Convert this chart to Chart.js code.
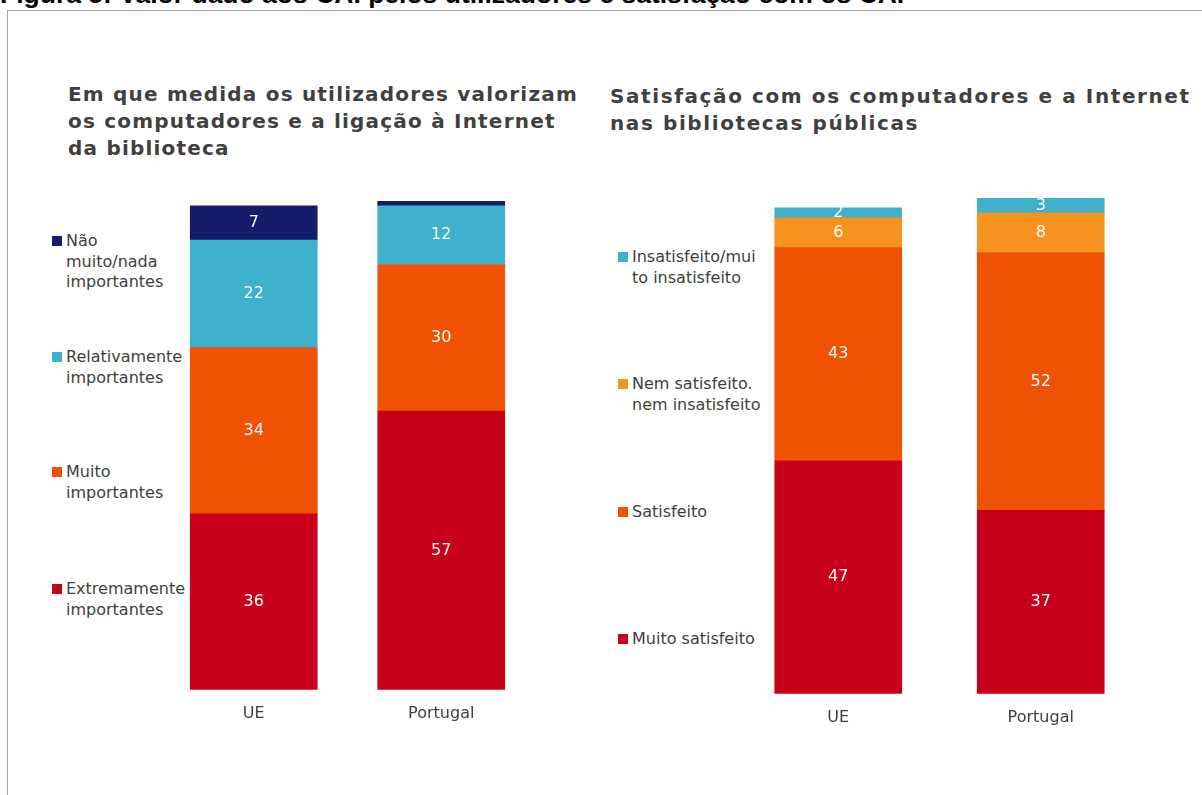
<!DOCTYPE html>
<html>
<head>
<meta charset="utf-8">
<script src="https://cdn.jsdelivr.net/npm/chart.js@4"></script>
<style>
  body { margin: 0; background: #fff; }
  #wrap { position: relative; width: 1202px; height: 795px; overflow: hidden; font-family: "DejaVu Sans", Verdana, sans-serif; }
  #caption { position: absolute; left: 0; top: -19px; font: bold 26.5px "Liberation Sans", Arial, sans-serif; color: #000; line-height: 26px; white-space: nowrap; }
  #frame { position: absolute; left: 7px; top: 10px; width: 1300px; height: 900px; border-left: 1px solid #a6a6a6; border-top: 1px solid #a6a6a6; }
  .title { position: absolute; font-weight: bold; font-size: 20px; line-height: 27px; color: #404040; letter-spacing: 1.2px; white-space: nowrap; }
  .leg { position: absolute; font-size: 16px; line-height: 20.5px; color: #404040; white-space: nowrap; }
  .leg i { position: absolute; width: 10px; height: 10px; left: -14px; top: 5px; }
  canvas { position: absolute; }
</style>
</head>
<body>
<div id="wrap">
  <div id="caption">Figura 5: Valor dado aos CAI pelos utilizadores e satisfação com os CAI</div>
  <div id="frame"></div>
  <div class="title" style="left:68px; top:81px;">Em que medida os utilizadores valorizam<br>os computadores e a ligação à Internet<br>da biblioteca</div>
  <div class="title" style="left:610px; top:83px; letter-spacing:1.6px;">Satisfação com os computadores e a Internet<br>nas bibliotecas públicas</div>
  <div id="legLeft"></div>
  <div id="legRight"></div>
  <div style="position:absolute;left:160px;top:190px;width:375px;height:539px;"><canvas id="chartLeft"></canvas></div>
  <div style="position:absolute;left:737px;top:190px;width:405px;height:543px;"><canvas id="chartRight"></canvas></div>
</div>
<script>
var categories = ["UE", "Portugal"];

// valorizacao (de baixo para cima)
var extremamente = [36, 57];
var muitoImp = [34, 30];
var relativamente = [22, 12];
var naoMuito = [7, 1];
var leftNames = [["Extremamente", "importantes"], ["Muito", "importantes"], ["Relativamente", "importantes"], ["Não", "muito/nada", "importantes"]];
var leftColors = ["#c8001a", "#f05205", "#40b1cd", "#141c6b"];

// satisfacao (de baixo para cima)
var muitoSatisfeito = [47, 37];
var satisfeito = [43, 52];
var nemNem = [6, 8];
var insatisfeito = [2, 3];
var rightNames = [["Muito satisfeito"], ["Satisfeito"], ["Nem satisfeito.", "nem insatisfeito"], ["Insatisfeito/mui", "to insatisfeito"]];
var rightColors = ["#c8001a", "#f05205", "#f6921e", "#40b1cd"];

var valueLabels = {
  id: "valueLabels",
  afterDatasetsDraw: function (chart) {
    var ctx = chart.ctx;
    ctx.save();
    ctx.fillStyle = "#ffffff";
    ctx.font = "16px 'DejaVu Sans', Verdana, sans-serif";
    ctx.textAlign = "center";
    ctx.textBaseline = "middle";
    chart.data.datasets.forEach(function (ds, i) {
      chart.getDatasetMeta(i).data.forEach(function (bar, j) {
        if (ds.data[j] < 2) return;
        ctx.fillText(ds.data[j], bar.x, (bar.y + bar.base) / 2);
      });
    });
    ctx.restore();
  }
};

function makeChart(id, series, names, colors, thickness, pad) {
  var datasets = series.map(function (s, i) {
    return { label: names[i].join(" "), data: s, backgroundColor: colors[i], barThickness: thickness, borderWidth: 0 };
  });
  return new Chart(document.getElementById(id), {
    type: "bar",
    data: { labels: categories, datasets: datasets },
    options: {
      responsive: true,
      maintainAspectRatio: false,
      animation: false,
      layout: { padding: pad },
      plugins: { legend: { display: false }, tooltip: { enabled: false } },
      scales: {
        x: {
          stacked: true,
          grid: { display: false },
          border: { display: false },
          ticks: { color: "#404040", padding: 6, font: { family: "'DejaVu Sans', Verdana, sans-serif", size: 16 } }
        },
        y: { stacked: true, display: false, min: 0, max: 100 }
      }
    },
    plugins: [valueLabels]
  });
}

makeChart("chartLeft", [extremamente, muitoImp, relativamente, naoMuito], leftNames, leftColors, 127, { top: 11, bottom: 0, left: 0, right: 0 });
makeChart("chartRight", [muitoSatisfeito, satisfeito, nemNem, insatisfeito], rightNames, rightColors, 127, { top: 8, bottom: 0, left: 0, right: 0 });

function makeLegend(id, names, colors, left, tops) {
  var box = document.getElementById(id);
  names.forEach(function (lines, i) {
    var d = document.createElement("div");
    d.className = "leg";
    d.style.left = left + "px";
    d.style.top = tops[i] + "px";
    d.innerHTML = '<i style="background:' + colors[i] + '"></i>' + lines.join("<br>");
    box.appendChild(d);
  });
}
makeLegend("legLeft", leftNames, leftColors, 66, [579, 462, 347, 231]);
makeLegend("legRight", rightNames, rightColors, 632, [629, 502, 374, 247]);
</script>
</body>
</html>
